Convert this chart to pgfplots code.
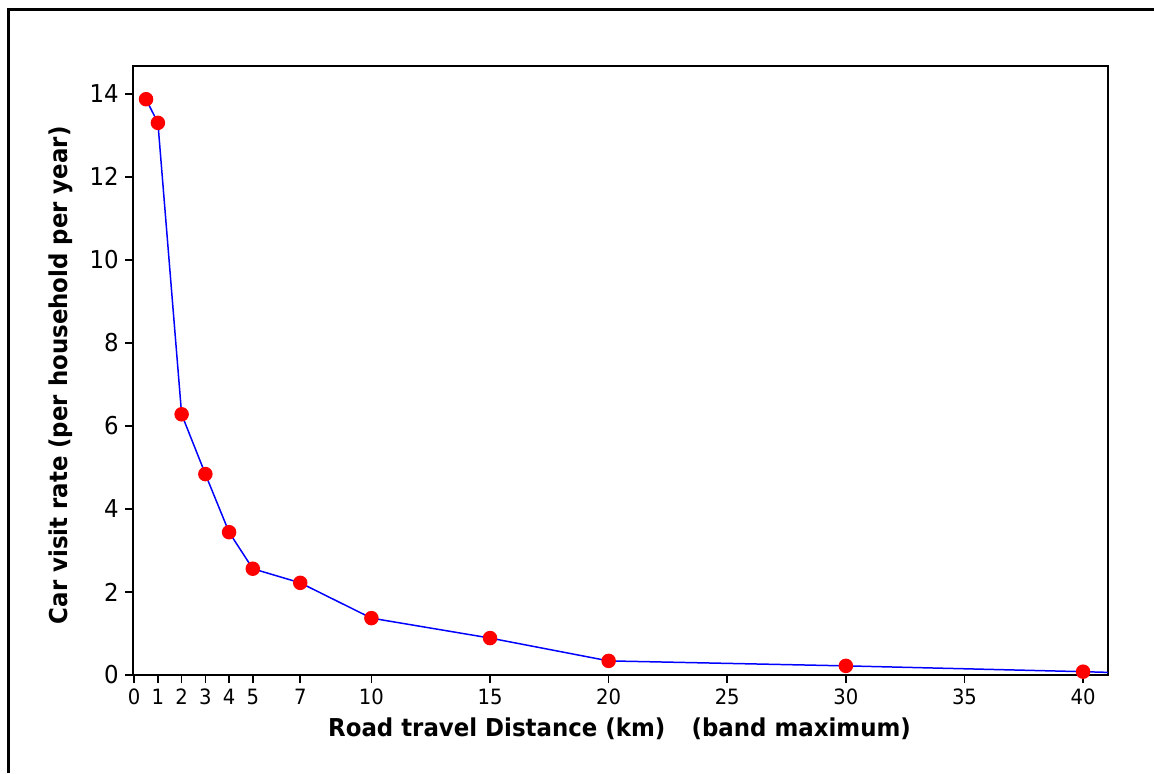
\documentclass[border=0pt]{standalone}
\usepackage{fontspec}
\setmainfont[FakeStretch=0.93]{DejaVu Sans}
\usepackage{pgfplots}
\pgfplotsset{compat=1.18}
\begin{document}
\begin{tikzpicture}
\useasboundingbox (0,0) rectangle (23.08cm,15.46cm);
\draw[line width=1.4pt] (0.17cm,0) -- (0.17cm,15.27cm) -- (23.08cm,15.27cm);
\begin{axis}[
  at={(2.66cm,1.96cm)}, anchor=south west,
  scale only axis, width=19.5cm, height=12.18cm,
  xmin=-0.05, xmax=41.05, ymin=0, ymax=14.67,
  xtick={0,1,2,3,4,5,7,10,15,20,25,30,35,40},
  ytick={0,2,4,6,8,10,12,14},
  tick align=outside, tick pos=left, major tick length=0.16cm,
  axis line style={line width=1.1pt},
  every tick/.style={black, line width=0.9pt},
  /pgf/number format/assume math mode=true,
  xticklabel style={font=\fontsize{12pt}{14pt}\selectfont},
  yticklabel style={font=\fontsize{14pt}{16pt}\selectfont},
  xlabel={Road travel Distance (km)\hspace{1.07em}(band maximum)},
  ylabel={Car visit rate (per household per year)},
  xlabel style={font=\fontsize{14pt}{16pt}\selectfont\bfseries, at={(axis description cs:0.499,-0.0887)}, anchor=center},
  ylabel style={font=\fontsize{14pt}{16pt}\selectfont\bfseries, at={(axis description cs:-0.074,0.492)}, anchor=center},
  clip=true,
]
\addplot[blue, line width=0.85pt, forget plot] coordinates {(40,0.08) (45,0.0)};
\addplot[blue, line width=0.85pt, mark=*, mark size=0.13cm, mark options={draw=red, fill=red}] coordinates {
(0.5,13.87) (1,13.30) (2,6.28) (3,4.84) (4,3.44) (5,2.56) (7,2.22) (10,1.37) (15,0.89) (20,0.34) (30,0.22) (40,0.08)
};
\end{axis}
\end{tikzpicture}
\end{document}
